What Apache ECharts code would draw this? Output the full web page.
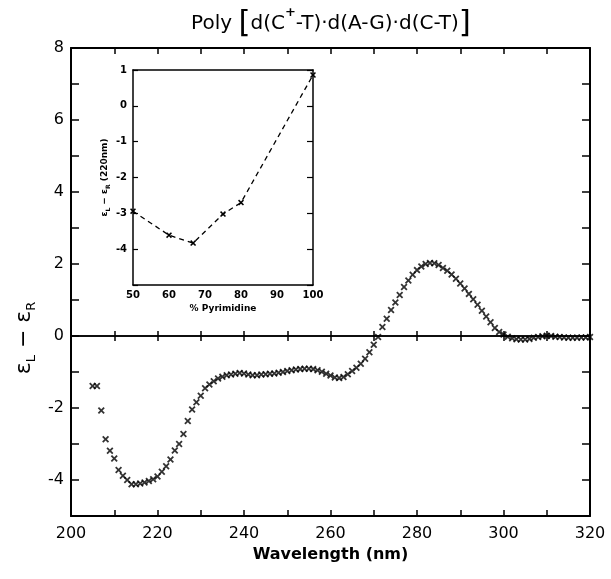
<!DOCTYPE html>
<html>
<head>
<meta charset="utf-8">
<script src="https://cdn.jsdelivr.net/npm/echarts/dist/echarts.min.js"></script>
<style>
html,body{margin:0;padding:0;background:#fff;}
#chart{width:611px;height:579px;}
</style>
</head>
<body>
<div id="chart"></div>
<script>
// Main CD spectrum (wavelength in nm, epsilon_L - epsilon_R)
const wavelengths = [205,206,207,208,209,210,211,212,213,214,215,216,217,218,219,220,221,222,223,224,225,226,227,228,229,230,231,232,233,234,235,236,237,238,239,240,241,242,243,244,245,246,247,248,249,250,251,252,253,254,255,256,257,258,259,260,261,262,263,264,265,266,267,268,269,270,271,272,273,274,275,276,277,278,279,280,281,282,283,284,285,286,287,288,289,290,291,292,293,294,295,296,297,298,299,300,301,302,303,304,305,306,307,308,309,310,311,312,313,314,315,316,317,318,319,320];
const cdValues = [-1.39,-1.39,-2.07,-2.87,-3.19,-3.40,-3.72,-3.88,-4.00,-4.12,-4.12,-4.10,-4.07,-4.03,-3.98,-3.90,-3.77,-3.62,-3.43,-3.18,-3.00,-2.72,-2.36,-2.04,-1.84,-1.66,-1.45,-1.35,-1.26,-1.18,-1.13,-1.09,-1.07,-1.05,-1.03,-1.04,-1.07,-1.09,-1.09,-1.07,-1.06,-1.05,-1.04,-1.02,-1.00,-0.97,-0.95,-0.93,-0.92,-0.91,-0.91,-0.92,-0.95,-0.99,-1.05,-1.10,-1.15,-1.17,-1.14,-1.06,-0.97,-0.88,-0.77,-0.63,-0.45,-0.24,-0.03,0.25,0.48,0.72,0.93,1.14,1.36,1.54,1.70,1.83,1.93,2.00,2.03,2.02,1.97,1.89,1.81,1.71,1.59,1.46,1.32,1.17,1.02,0.87,0.70,0.54,0.38,0.22,0.11,0.04,-0.02,-0.06,-0.09,-0.10,-0.10,-0.08,-0.05,-0.03,-0.01,0.01,0.00,-0.02,-0.03,-0.04,-0.05,-0.05,-0.05,-0.04,-0.04,-0.03];

// Inset: % pyrimidine vs epsilon_L - epsilon_R at 220 nm
const pyrimidine = [50, 60, 66.7, 75, 80, 100];
const inset220 = [-2.94, -3.61, -3.83, -3.02, -2.70, 0.86];

// Tick labels
const xTickLabels = [200, 220, 240, 260, 280, 300, 320];
const yTickLabels = [8, 6, 4, 2, 0, -2, -4];
const insetXTickLabels = [50, 60, 70, 80, 90, 100];
const insetYTickLabels = [1, 0, -1, -2, -3, -4];

const FONT = 'DejaVu Sans';
const XSYM = 'path://M0,1.8L1.8,0L5,3.2L8.2,0L10,1.8L6.8,5L10,8.2L8.2,10L5,6.8L1.8,10L0,8.2L3.2,5Z';

const chart = echarts.init(document.getElementById('chart'), null, {renderer: 'canvas'});

const mainLine = {show: true, lineStyle: {color: '#000', width: 2}};
const insetLine = {show: true, lineStyle: {color: '#000', width: 1.5}};

const option = {
  animation: false,
  backgroundColor: '#fff',
  title: {
    left: 326, textAlign: 'center', top: 1,
    text: '{p|Poly }{b|[}{p|d(C}{sup|+}{p|-T)·d(A-G)·d(C-T)}{b|]}',
    textStyle: {
      fontWeight: 'normal',
      rich: {
        p: {fontFamily: FONT, fontSize: 20, fontWeight: 'normal', color: '#000', lineHeight: 36},
        b: {fontFamily: FONT, fontSize: 31, fontWeight: 'normal', color: '#000', lineHeight: 36},
        sup: {fontFamily: FONT, fontSize: 13, fontWeight: 'bold', color: '#000', lineHeight: 24, verticalAlign: 'top'}
      }
    }
  },
  graphic: [{
    type: 'text', x: 24, y: 338, rotation: Math.PI / 2,
    style: {
      text: '{e|ε}{s|L}{e| − ε}{s|R}',
      align: 'center', verticalAlign: 'middle',
      rich: {
        e: {fontFamily: FONT, fontSize: 22, fill: '#000', lineHeight: 28},
        s: {fontFamily: FONT, fontSize: 13, fill: '#000', lineHeight: 16, verticalAlign: 'bottom'}
      }
    }
  }],
  grid: [
    {left: 71, right: 21, top: 48, bottom: 63},
    {left: 133, right: 298, top: 70, bottom: 294}
  ],
  xAxis: [
    { // 0 main bottom
      type: 'value', gridIndex: 0, position: 'bottom', min: 200, max: 320, interval: 10,
      axisLine: Object.assign({onZero: false}, mainLine),
      axisTick: {show: true, inside: true, length: 6, lineStyle: {color: '#000', width: 1.5}},
      axisLabel: {
        color: '#000', fontFamily: FONT, fontSize: 16, margin: 10,
        formatter: v => xTickLabels.includes(v) ? String(v) : ''
      },
      splitLine: {show: false},
      name: 'Wavelength (nm)', nameLocation: 'middle', nameGap: 28,
      nameTextStyle: {color: '#000', fontFamily: FONT, fontSize: 16, fontWeight: 'bold'}
    },
    { // 1 main top
      type: 'value', gridIndex: 0, position: 'top', min: 200, max: 320, interval: 10,
      axisLine: Object.assign({onZero: false}, mainLine),
      axisTick: {show: true, inside: true, length: 6, lineStyle: {color: '#000', width: 1.5}},
      axisLabel: {show: false}, splitLine: {show: false}
    },
    { // 2 zero line, ticks upward
      type: 'value', gridIndex: 0, position: 'bottom', min: 200, max: 320, interval: 10,
      axisLine: {show: true, onZero: true, onZeroAxisIndex: 0, lineStyle: {color: '#000', width: 1.5}},
      axisTick: {show: true, inside: true, length: 5, lineStyle: {color: '#000', width: 1.5}},
      axisLabel: {show: false}, splitLine: {show: false}
    },
    { // 3 zero line, ticks downward
      type: 'value', gridIndex: 0, position: 'bottom', min: 200, max: 320, interval: 10,
      axisLine: {show: true, onZero: true, onZeroAxisIndex: 0, lineStyle: {color: '#000', width: 1.5}},
      axisTick: {show: true, inside: false, length: 5, lineStyle: {color: '#000', width: 1.5}},
      axisLabel: {show: false}, splitLine: {show: false}
    },
    { // 4 inset bottom
      type: 'value', gridIndex: 1, position: 'bottom', min: 50, max: 100, interval: 10,
      axisLine: Object.assign({onZero: false}, insetLine),
      axisTick: {show: false},
      axisLabel: {
        color: '#000', fontFamily: FONT, fontSize: 10, fontWeight: 'bold', margin: 5,
        formatter: v => insetXTickLabels.includes(v) ? String(v) : ''
      },
      splitLine: {show: false},
      name: '% Pyrimidine', nameLocation: 'middle', nameGap: 19,
      nameTextStyle: {color: '#000', fontFamily: FONT, fontSize: 9, fontWeight: 'bold'}
    },
    { // 5 inset top
      type: 'value', gridIndex: 1, position: 'top', min: 50, max: 100, interval: 10,
      axisLine: Object.assign({onZero: false}, insetLine),
      axisTick: {show: false}, axisLabel: {show: false}, splitLine: {show: false}
    }
  ],
  yAxis: [
    { // 0 main left
      type: 'value', gridIndex: 0, position: 'left', min: -5, max: 8, interval: 1,
      axisLine: Object.assign({onZero: false}, mainLine),
      axisTick: {show: true, inside: true, length: 8, lineStyle: {color: '#000', width: 1.5}},
      axisLabel: {
        color: '#000', fontFamily: FONT, fontSize: 16, margin: 7,
        formatter: v => yTickLabels.includes(v) ? String(v) : ''
      },
      splitLine: {show: false}
    },
    { // 1 main right
      type: 'value', gridIndex: 0, position: 'right', min: -5, max: 8, interval: 1,
      axisLine: Object.assign({onZero: false}, mainLine),
      axisTick: {show: true, inside: true, length: 8, lineStyle: {color: '#000', width: 1.5}},
      axisLabel: {show: false}, splitLine: {show: false}
    },
    { // 2 inset left
      type: 'value', gridIndex: 1, position: 'left', min: -5, max: 1, interval: 1,
      axisLine: Object.assign({onZero: false}, insetLine),
      axisTick: {show: true, inside: true, length: 5, lineStyle: {color: '#000', width: 1.2}},
      axisLabel: {
        color: '#000', fontFamily: FONT, fontSize: 10, fontWeight: 'bold', margin: 6,
        formatter: v => insetYTickLabels.includes(v) ? String(v) : ''
      },
      splitLine: {show: false},
      name: '{e|ε}{s|L}{e| − ε}{s|R}{e| (220nm)}', nameLocation: 'middle', nameGap: 22, nameRotate: 90,
      nameTextStyle: {
        rich: {
          e: {fontFamily: FONT, fontSize: 9, fontWeight: 'bold', color: '#000', lineHeight: 12},
          s: {fontFamily: FONT, fontSize: 6, fontWeight: 'bold', color: '#000', lineHeight: 8, verticalAlign: 'bottom'}
        }
      }
    },
    { // 3 inset right
      type: 'value', gridIndex: 1, position: 'right', min: -5, max: 1, interval: 1,
      axisLine: Object.assign({onZero: false}, insetLine),
      axisTick: {show: true, inside: true, length: 6, lineStyle: {color: '#000', width: 1.2}},
      axisLabel: {show: false}, splitLine: {show: false}
    }
  ],
  series: [
    {
      type: 'scatter', xAxisIndex: 0, yAxisIndex: 0,
      data: wavelengths.map((w, i) => [w, cdValues[i]]),
      symbol: XSYM, symbolSize: 7,
      itemStyle: {color: '#000'}
    },
    {
      type: 'line', xAxisIndex: 4, yAxisIndex: 2,
      data: pyrimidine.map((p, i) => [p, inset220[i]]),
      symbol: XSYM, symbolSize: 6, showSymbol: true,
      lineStyle: {color: '#000', width: 1.3, type: [5, 4]},
      itemStyle: {color: '#000'}
    }
  ]
};
chart.setOption(option);
</script>
</body>
</html>
